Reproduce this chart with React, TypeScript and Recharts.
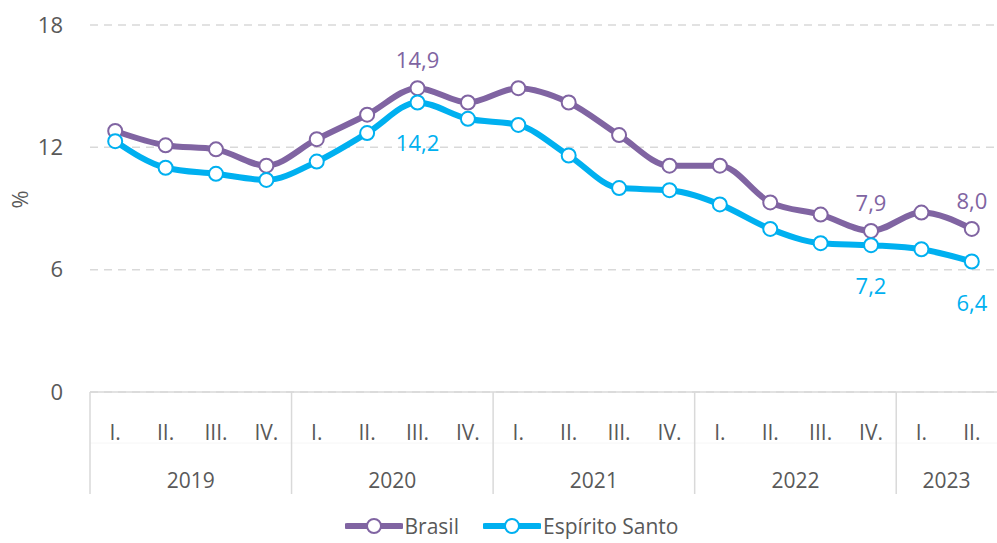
import { LineChart, Line, XAxis, YAxis, CartesianGrid, Legend, LabelList } from "recharts";

const YEARS = ["2019", "2020", "2021", "2022", "2023"];
const QUARTERS_PER_YEAR = [4, 4, 4, 4, 2];
const QUARTER_NAMES = ["I.", "II.", "III.", "IV."];

const BRASIL = [12.8, 12.1, 11.9, 11.1, 12.4, 13.6, 14.9, 14.2, 14.9, 14.2, 12.6, 11.1, 11.1, 9.3, 8.7, 7.9, 8.8, 8.0];
const ESPIRITO_SANTO = [12.3, 11.0, 10.7, 10.4, 11.3, 12.7, 14.2, 13.4, 13.1, 11.6, 10.0, 9.9, 9.2, 8.0, 7.3, 7.2, 7.0, 6.4];

const Y_TICKS = [0, 6, 12, 18];
const LABELED = [6, 15, 17];

const PURPLE = "#8064A2";
const CYAN = "#00B0F0";
const TEXT = "#595959";
const FONT = "'Open Sans', 'Noto Sans', sans-serif";

const W = 997;
const H = 543;
const LEFT = 90;
const BW = (W - LEFT) / 18;

const rows: { key: string; q: string; year: string; groupStart: boolean; groupSize: number }[] = [];
YEARS.forEach((year, yi) => {
  for (let i = 0; i < QUARTERS_PER_YEAR[yi]; i++) {
    rows.push({ key: `${year}-${i}`, q: QUARTER_NAMES[i], year, groupStart: i === 0, groupSize: QUARTERS_PER_YEAR[yi] });
  }
});
const data = rows.map((r, i) => ({ ...r, brasil: BRASIL[i], es: ESPIRITO_SANTO[i] }));

const fmt = (v: number) => v.toFixed(1).replace(".", ",");

const QuarterTick = ({ x, y, payload }: any) => {
  const r = rows[payload.index];
  if (!r) return null;
  return (
    <g>
      <line x1={x - BW / 2} x2={x + BW / 2} y1={y + 51} y2={y + 51} stroke="#f6f6f6" />
      <text x={x} y={y + 48} textAnchor="middle" fill={TEXT} fontSize={21} fontFamily={FONT}>{r.q}</text>
      {r.groupStart && (
        <>
          <line x1={x - BW / 2} x2={x - BW / 2} y1={y} y2={y + 102} stroke="#d9d9d9" strokeWidth={1.5} />
          <text x={x - BW / 2 + (r.groupSize * BW) / 2} y={y + 96} textAnchor="middle" fill={TEXT} fontSize={21} fontFamily={FONT}>{r.year}</text>
        </>
      )}
    </g>
  );
};

const makeLabel = (color: string, above: boolean) => (props: any) => {
  const { x, y, value, index } = props;
  if (!LABELED.includes(index)) return null;
  return (
    <text x={x} y={above ? y - 20 : y + 49} textAnchor="middle" fill={color} fontSize={22} fontFamily={FONT}>
      {fmt(value)}
    </text>
  );
};

const LegendContent = () => {
  const items = [
    { name: "Brasil", color: PURPLE },
    { name: "Espírito Santo", color: CYAN },
  ];
  return (
    <div style={{ display: "flex", justifyContent: "center", gap: 24, fontFamily: FONT, fontSize: 21, lineHeight: "24px", color: TEXT, paddingTop: 17, paddingLeft: 26 }}>
      {items.map((it) => (
        <div key={it.name} style={{ display: "flex", alignItems: "center" }}>
          <svg width={58} height={20}>
            <line x1={2} x2={56} y1={10} y2={10} stroke={it.color} strokeWidth={6} strokeLinecap="round" />
            <circle cx={29} cy={10} r={7} fill="#fff" stroke={it.color} strokeWidth={2} />
          </svg>
          <span style={{ marginLeft: 2 }}>{it.name}</span>
        </div>
      ))}
    </div>
  );
};

export default function App() {
  return (
    <div style={{ position: "absolute", left: 0, top: 0, width: W, height: H, background: "#fff" }}>
      <LineChart width={W} height={H} data={data} margin={{ top: 25, right: 0, left: 0, bottom: 0 }}>
        <CartesianGrid vertical={false} stroke="#d9d9d9" strokeDasharray="8 6" strokeWidth={1.5} />
        <XAxis
          dataKey="key"
          interval={0}
          height={105}
          padding={{ left: BW / 2, right: BW / 2 }}
          tick={<QuarterTick />}
          tickLine={false}
          tickSize={0}
          tickMargin={0}
          axisLine={{ stroke: "#d9d9d9", strokeWidth: 1.5 }}
        />
        <YAxis
          domain={[0, 18]}
          ticks={Y_TICKS}
          width={LEFT}
          axisLine={false}
          tickLine={false}
          tickSize={0}
          tickMargin={27}
          tick={{ fill: TEXT, fontSize: 22, fontFamily: FONT }}
          label={{ value: "%", angle: -90, position: "insideLeft", offset: 20, fill: TEXT, fontSize: 22, fontFamily: FONT }}
        />
        <Legend verticalAlign="bottom" height={46} content={<LegendContent />} />
        <Line
          type="monotone"
          dataKey="brasil"
          name="Brasil"
          stroke={PURPLE}
          strokeWidth={6}
          dot={{ r: 7, fill: "#fff", stroke: PURPLE, strokeWidth: 2 }}
          activeDot={false}
          isAnimationActive={false}
        >
          <LabelList dataKey="brasil" content={makeLabel(PURPLE, true)} />
        </Line>
        <Line
          type="monotone"
          dataKey="es"
          name="Espírito Santo"
          stroke={CYAN}
          strokeWidth={6}
          dot={{ r: 7, fill: "#fff", stroke: CYAN, strokeWidth: 2 }}
          activeDot={false}
          isAnimationActive={false}
        >
          <LabelList dataKey="es" content={makeLabel(CYAN, false)} />
        </Line>
      </LineChart>
    </div>
  );
}
